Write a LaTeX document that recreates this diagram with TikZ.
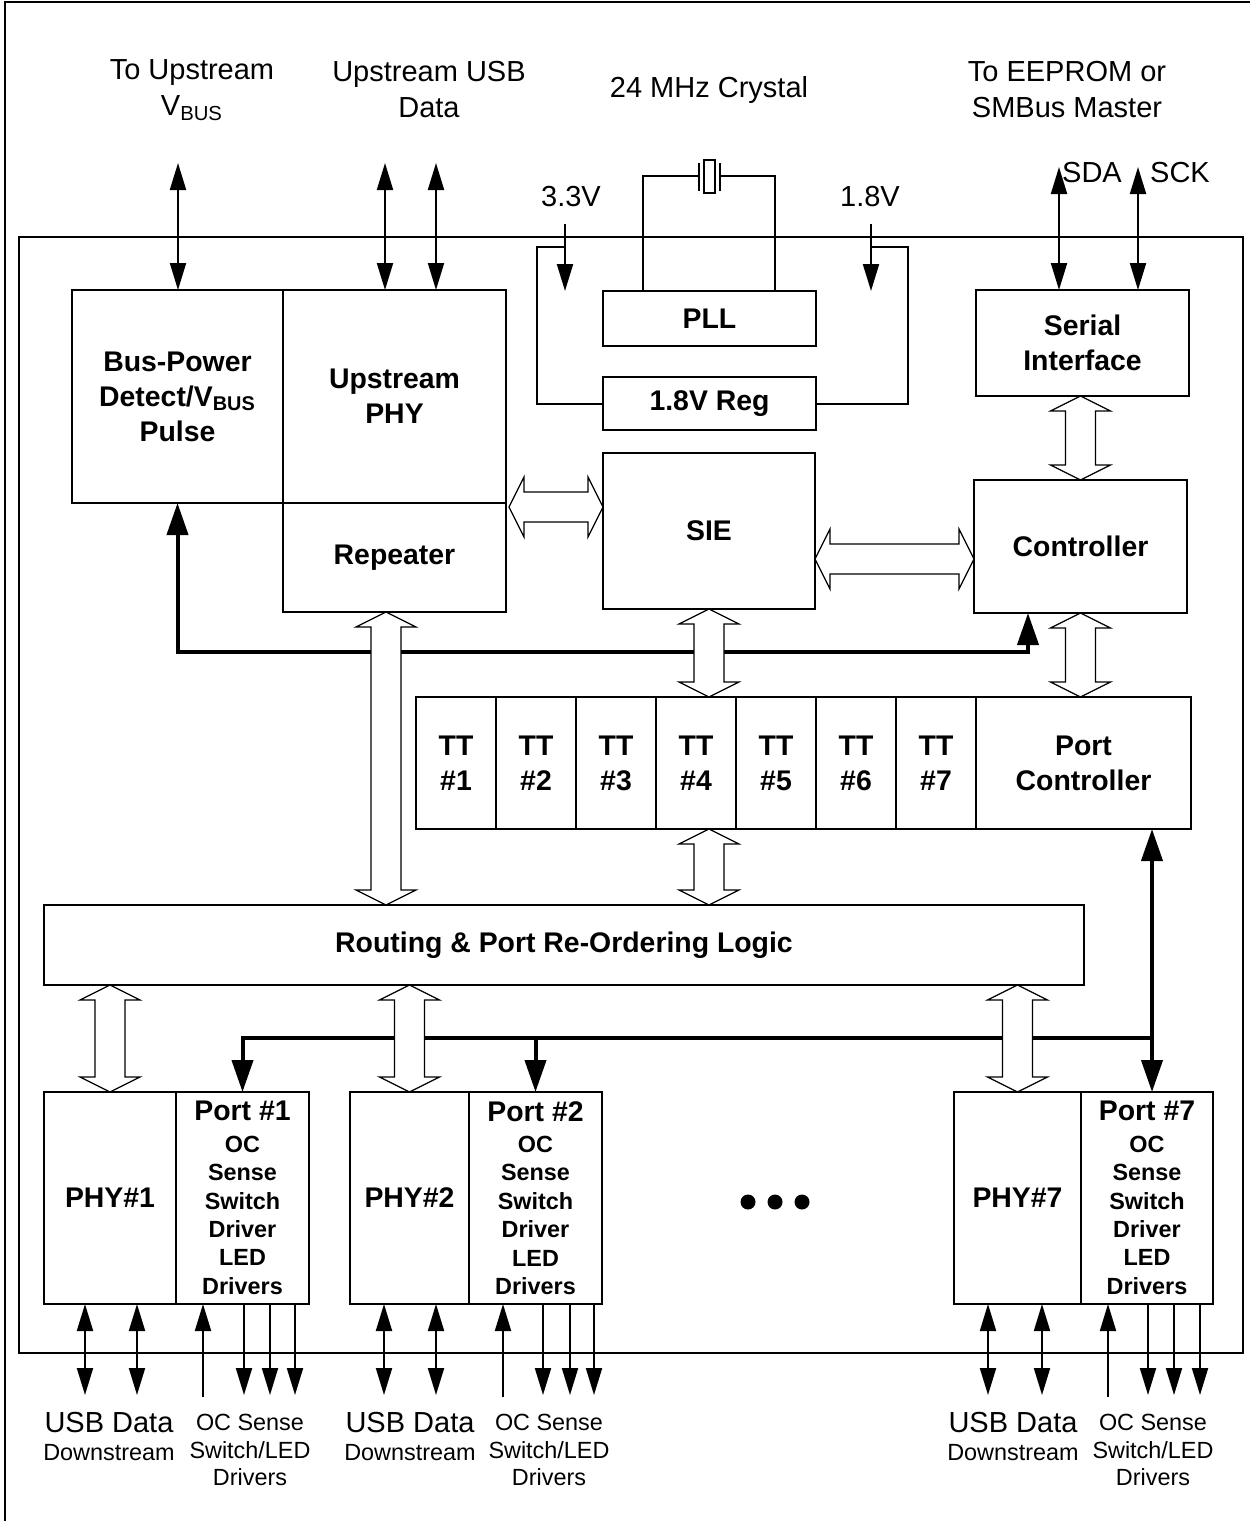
\documentclass[tikz,border=0pt]{standalone}
\usepackage{fontspec}
\setmainfont{Liberation Sans}
\usepackage{tikz}
\usetikzlibrary{positioning, arrows.meta, calc}

\begin{document}
\begin{tikzpicture}[x=0.5pt, y=0.5pt,
   >={Triangle[length=13.5pt,width=8pt]},
   blk/.style={draw, line width=0.6pt, inner sep=0pt, outer sep=0pt, align=center,
      font=\fontsize{14.2}{17.5}\selectfont\bfseries},
   port/.style={blk, minimum width=33pt, minimum height=106pt,
      font=\fontsize{11.7}{14.2}\selectfont\bfseries},
   tt/.style={blk, minimum width=40pt, minimum height=66pt},
   lbl/.style={align=center, inner sep=0pt, font=\fontsize{14.5}{18}\selectfont},
   sml/.style={align=center, inner sep=0pt, font=\fontsize{11.7}{13.8}\selectfont},
   sig/.style={line width=1pt},
   bus/.style={line width=2pt, >={Triangle[length=16pt,width=10.5pt]}},
   hollow/.style={draw, fill=white, line width=0.6pt},
   vbus/.style={hollow, to path={(\tikztostart) -- ($(\tikztostart)+(30,-15)$)
      -- ($(\tikztostart)+(15,-15)$) -- ($(\tikztotarget)+(15,15)$)
      -- ($(\tikztotarget)+(30,15)$) -- (\tikztotarget) -- ($(\tikztotarget)+(-30,15)$)
      -- ($(\tikztotarget)+(-15,15)$) -- ($(\tikztostart)+(-15,-15)$)
      -- ($(\tikztostart)+(-30,-15)$) -- cycle}},
   hbus/.style={hollow, to path={(\tikztostart) -- ($(\tikztostart)+(15,30)$)
      -- ($(\tikztostart)+(15,15)$) -- ($(\tikztotarget)+(-15,15)$)
      -- ($(\tikztotarget)+(-15,30)$) -- (\tikztotarget) -- ($(\tikztotarget)+(-15,-30)$)
      -- ($(\tikztotarget)+(-15,-15)$) -- ($(\tikztostart)+(15,-15)$)
      -- ($(\tikztostart)+(15,-30)$) -- cycle}}]
   \useasboundingbox (0,0) rectangle (1249,-1521);
   % frames
   \draw[line width=1.2pt] (5,-2) rectangle (1400,-1700);
   \draw[line width=1.2pt] (19,-237) rectangle (1243,-1353);

   % outside labels
   \node[lbl] (tovbus) at (192,-90) {To Upstream\\V\textsubscript{BUS}};
   \node[lbl] (tousb) at (429,-90) {Upstream USB\\Data};
   \node[lbl] (xtal) at (709,-90) {24 MHz Crystal};
   \node[lbl] (toeep) at (1067,-90) {To EEPROM or\\SMBus Master};
   \node[lbl] (v33) at (571,-197) {3.3V};
   \node[lbl] (v18) at (870,-197) {1.8V};
   \node[lbl] (sda) at (1092,-173) {SDA};
   \node[lbl] (sck) at (1180,-173) {SCK};

   % upstream blocks
   \node[blk, minimum width=105.5pt, minimum height=106.5pt] (bpd) at (177.5,-396.5)
      {Bus-Power\\Detect/V\textsubscript{BUS}\\Pulse};
   \node[blk, minimum width=111.5pt, minimum height=106.5pt] (uphy) [right=0pt of bpd]
      {Upstream\\PHY};
   \node[blk, minimum width=111.5pt, minimum height=54.5pt] (rep) [below=0pt of uphy]
      {Repeater};
   \node[blk, minimum width=106.5pt, minimum height=27.5pt] (pll) at (709.5,-318.5) {PLL};
   \node[blk, minimum width=106.5pt, minimum height=26.5pt] (reg) at (709.5,-403.5) {1.8V Reg};
   \node[blk, minimum width=106.5pt, minimum height=53pt] (ser) at (1082.5,-343)
      {Serial\\Interface};
   \node[blk, minimum width=106pt, minimum height=78pt] (sie) at (709,-531) {SIE};
   \node[blk, minimum width=106.5pt, minimum height=66.5pt] (ctrl) at (1080.5,-546.5)
      {Controller};

   % transaction translators
   \node[tt] (tt1) at (456,-763) {TT\\\#1};
   \node[tt] (tt2) [right=0pt of tt1] {TT\\\#2};
   \node[tt] (tt3) [right=0pt of tt2] {TT\\\#3};
   \node[tt] (tt4) [right=0pt of tt3] {TT\\\#4};
   \node[tt] (tt5) [right=0pt of tt4] {TT\\\#5};
   \node[tt] (tt6) [right=0pt of tt5] {TT\\\#6};
   \node[tt] (tt7) [right=0pt of tt6] {TT\\\#7};
   \node[tt, minimum width=107.5pt] (pctrl) [right=0pt of tt7] {Port\\Controller};

   \node[blk, minimum width=520pt, minimum height=40pt] (route) at (564,-945)
      {Routing \& Port Re-Ordering Logic};

   % downstream ports
   \node[blk, minimum width=66pt, minimum height=106pt] (phy1) at (110,-1198) {PHY\#1};
   \node[port, minimum width=66.5pt] (port1) [right=0pt of phy1]
      {{\fontsize{14.2}{15}\selectfont Port \#1}\\[1.5pt]OC\\Sense\\Switch\\Driver\\LED\\Drivers};
   \node[blk, minimum width=59.5pt, minimum height=106pt] (phy2) at (409.5,-1198) {PHY\#2};
   \node[port, minimum width=66.5pt] (port2) [right=0pt of phy2]
      {{\fontsize{14.2}{15}\selectfont Port \#2}\\[1.5pt]OC\\Sense\\Switch\\Driver\\LED\\Drivers};
   \node[blk, minimum width=63.5pt, minimum height=106pt] (phy7) at (1017.5,-1198) {PHY\#7};
   \node[port, minimum width=66pt] (port7) [right=0pt of phy7]
      {{\fontsize{14.2}{15}\selectfont Port \#7}\\[1.5pt]OC\\Sense\\Switch\\Driver\\LED\\Drivers};
   \fill (748,-1202) circle[radius=7.5] (775,-1202) circle[radius=7.5] (802,-1202) circle[radius=7.5];

   % bottom labels
   \node[lbl] (usb1) at (109,-1422) {USB Data};
   \node[sml] (dn1) at (109,-1453) {Downstream};
   \node[sml] (oc1) at (250,-1450) {OC Sense\\Switch/LED\\Drivers};
   \node[lbl] (usb2) at (410,-1422) {USB Data};
   \node[sml] (dn2) at (410,-1453) {Downstream};
   \node[sml] (oc2) at (549,-1450) {OC Sense\\Switch/LED\\Drivers};
   \node[lbl] (usb7) at (1013,-1422) {USB Data};
   \node[sml] (dn7) at (1013,-1453) {Downstream};
   \node[sml] (oc7) at (1153,-1450) {OC Sense\\Switch/LED\\Drivers};

   % crystal
   \node[draw, line width=0.6pt, minimum width=5.5pt, minimum height=16.5pt, inner sep=0pt]
      (xq) at (709.5,-176.5) {};
   \draw[sig] (699,-163) -- (699,-191) (720,-163) -- (720,-191);
   \draw[sig] (pll.north -| 643,0) |- (699,-176);
   \draw[sig] (pll.north -| 775,0) |- (720,-176);

   % supplies
   \coordinate (p33) at (565,-224);
   \coordinate (p18) at (871,-224);
   \draw[sig,->] (p33) -- (p33 |- pll.north);
   \draw[sig,->] (p18) -- (p18 |- pll.north);
   \draw[sig] (p33 |- 0,-247) -- (537,-247) |- (reg.west);
   \draw[sig] (p18 |- 0,-247) -- (908,-247) |- (reg.east);

   % external signals
   \coordinate (vb) at (178,-163);
   \coordinate (ud1) at (385,-163);
   \coordinate (ud2) at (436,-163);
   \coordinate (sdat) at (1059,-167);
   \coordinate (sckt) at (1138,-167);
   \draw[sig,<->] (vb) -- (vb |- bpd.north);
   \draw[sig,<->] (ud1) -- (ud1 |- uphy.north);
   \draw[sig,<->] (ud2) -- (ud2 |- uphy.north);
   \draw[sig,<->] (sdat) -- (sdat |- ser.north);
   \draw[sig,<->] (sckt) -- (sckt |- ser.north);

   % port pins
   \draw[sig,<->] (phy1.south -| 85,0) -- +(0,-91);
   \draw[sig,<->] (phy1.south -| 137,0) -- +(0,-91);
   \draw[sig,<-] (port1.south -| 203,0) -- +(0,-93);
   \draw[sig,->] (port1.south -| 244,0) -- +(0,-91);
   \draw[sig,->] (port1.south -| 270,0) -- +(0,-91);
   \draw[sig,->] (port1.south -| 295,0) -- +(0,-91);
   \draw[sig,<->] (phy2.south -| 384,0) -- +(0,-91);
   \draw[sig,<->] (phy2.south -| 436,0) -- +(0,-91);
   \draw[sig,<-] (port2.south -| 503,0) -- +(0,-93);
   \draw[sig,->] (port2.south -| 543,0) -- +(0,-91);
   \draw[sig,->] (port2.south -| 570,0) -- +(0,-91);
   \draw[sig,->] (port2.south -| 594,0) -- +(0,-91);
   \draw[sig,<->] (phy7.south -| 988,0) -- +(0,-91);
   \draw[sig,<->] (phy7.south -| 1042,0) -- +(0,-91);
   \draw[sig,<-] (port7.south -| 1108,0) -- +(0,-93);
   \draw[sig,->] (port7.south -| 1148,0) -- +(0,-91);
   \draw[sig,->] (port7.south -| 1174,0) -- +(0,-91);
   \draw[sig,->] (port7.south -| 1200,0) -- +(0,-91);

   % control buses
   \coordinate (pb) at (1152,-1038);
   \draw[bus,<->] (bpd.south) -- (bpd.south |- 0,-652) -| (ctrl.south -| 1028,0);
   \draw[bus,<->] (pctrl.south -| pb) -- (port7.north -| pb);
   \draw[bus,->] (pb) -| (port1.north);
   \draw[bus,->] (port2.north |- pb) -- (port2.north);

   % data paths
   \coordinate (h1a) at (509,-507);
   \coordinate (h1b) at (sie.west |- h1a);
   \coordinate (h2a) at (sie.east |- 0,-559);
   \coordinate (h2b) at (ctrl.west |- h2a);
   \coordinate (v1a) at (ser.south -| ctrl.south);
   \coordinate (v1b) at (ctrl.north);
   \coordinate (v2a) at (ctrl.south);
   \coordinate (v2b) at (ctrl.south |- pctrl.north);
   \coordinate (v3a) at (sie.south);
   \coordinate (v3b) at (sie.south |- tt4.north);
   \coordinate (v4a) at (sie.south |- tt4.south);
   \coordinate (v4b) at (sie.south |- route.north);
   \coordinate (v5a) at (rep.south -| 386,0);
   \coordinate (v5b) at (v5a |- route.north);
   \coordinate (v6a) at (phy1.north |- route.south);
   \coordinate (v7a) at (phy2.north |- route.south);
   \coordinate (v8a) at (phy7.north |- route.south);
   \path
    (h1a) edge[hbus] (h1b)
    (h2a) edge[hbus] (h2b)
    (v1a) edge[vbus] (v1b)
    (v2a) edge[vbus] (v2b)
    (v3a) edge[vbus] (v3b)
    (v4a) edge[vbus] (v4b)
    (v5a) edge[vbus] (v5b)
    (v6a) edge[vbus] (phy1.north)
    (v7a) edge[vbus] (phy2.north)
    (v8a) edge[vbus] (phy7.north);
\end{tikzpicture}
\end{document}
